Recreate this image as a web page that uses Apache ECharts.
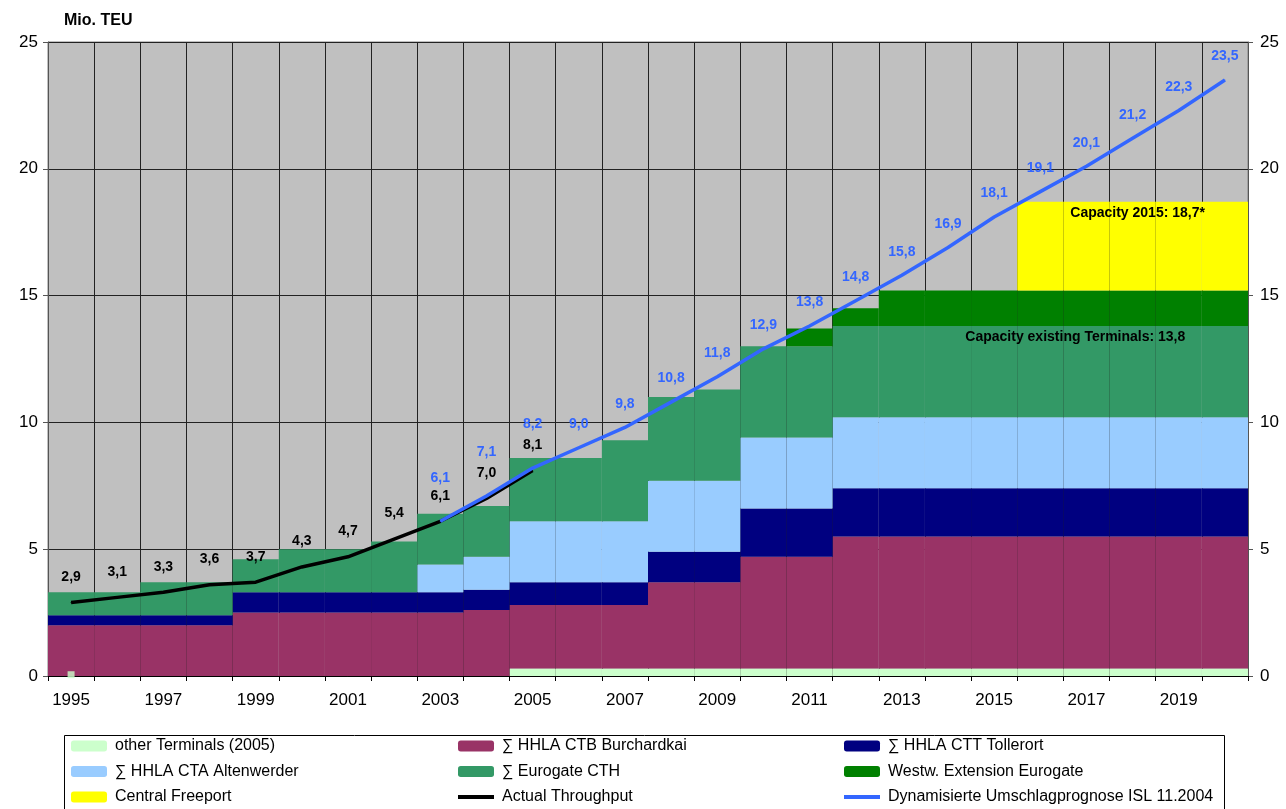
<!DOCTYPE html>
<html>
<head>
<meta charset="utf-8">
<script src="https://cdn.jsdelivr.net/npm/echarts@6/dist/echarts.min.js"></script>
<style>
  html, body { margin: 0; padding: 0; background: #fff; }
  #chart { width: 1286px; height: 809px; }
</style>
</head>
<body>
<div id="chart"></div>
<script>
const years = ['1995', '1996', '1997', '1998', '1999', '2000', '2001', '2002', '2003', '2004', '2005', '2006', '2007',
  '2008', '2009', '2010', '2011', '2012', '2013', '2014', '2015', '2016', '2017', '2018', '2019', '2020']

// stacked capacity blocks, Mio. TEU per terminal
const otherTerminals = [0, 0, 0, 0, 0, 0, 0, 0, 0, 0, 0.3, 0.3, 0.3, 0.3, 0.3, 0.3, 0.3, 0.3, 0.3, 0.3, 0.3, 0.3, 0.3, 0.3, 0.3, 0.3]
const ctbBurchardkai = [2.0, 2.0, 2.0, 2.0, 2.5, 2.5, 2.5, 2.5, 2.5, 2.6, 2.5, 2.5, 2.5, 3.4, 3.4, 4.4, 4.4, 5.2, 5.2, 5.2, 5.2, 5.2, 5.2, 5.2, 5.2, 5.2]
const cttTollerort = [0.4, 0.4, 0.4, 0.4, 0.8, 0.8, 0.8, 0.8, 0.8, 0.8, 0.9, 0.9, 0.9, 1.2, 1.2, 1.9, 1.9, 1.9, 1.9, 1.9, 1.9, 1.9, 1.9, 1.9, 1.9, 1.9]
const ctaAltenwerder = [0, 0, 0, 0, 0, 0, 0, 0, 1.1, 1.3, 2.4, 2.4, 2.4, 2.8, 2.8, 2.8, 2.8, 2.8, 2.8, 2.8, 2.8, 2.8, 2.8, 2.8, 2.8, 2.8]
const eurogateCTH = [0.9, 0.9, 1.3, 1.3, 1.3, 1.7, 1.7, 2.0, 2.0, 2.0, 2.5, 2.5, 3.2, 3.3, 3.6, 3.6, 3.6, 3.6, 3.6, 3.6, 3.6, 3.6, 3.6, 3.6, 3.6, 3.6]
const westwExtension = [0, 0, 0, 0, 0, 0, 0, 0, 0, 0, 0, 0, 0, 0, 0, 0, 0.7, 0.7, 1.4, 1.4, 1.4, 1.4, 1.4, 1.4, 1.4, 1.4]
const centralFreeport = [0, 0, 0, 0, 0, 0, 0, 0, 0, 0, 0, 0, 0, 0, 0, 0, 0, 0, 0, 0, 0, 3.5, 3.5, 3.5, 3.5, 3.5]
const otherTerminalsSpot = [['1995', 0.05]]

// throughput lines
const actualThroughput = [2.9, 3.1, 3.3, 3.6, 3.7, 4.3, 4.7, 5.4, 6.1, 7.0, 8.1, null, null, null, null, null, null, null, null, null, null, null, null, null, null, null]
const forecastISL = [null, null, null, null, null, null, null, null, 6.1, 7.1, 8.2, 9.0, 9.8, 10.8, 11.8, 12.9, 13.8, 14.8, 15.8, 16.9, 18.1, 19.1, 20.1, 21.2, 22.3, 23.5]

const NAMES = {
  other: 'other Terminals (2005)',
  ctb: '∑ HHLA CTB Burchardkai',
  ctt: '∑ HHLA CTT Tollerort',
  cta: '∑ HHLA CTA Altenwerder',
  cth: '∑ Eurogate CTH',
  westw: 'Westw. Extension Eurogate',
  freeport: 'Central Freeport',
  actual: 'Actual Throughput',
  forecast: 'Dynamisierte Umschlagprognose ISL 11.2004',
}
const FONT = '"Liberation Sans", Arial, sans-serif'
const fmt = v => v.toFixed(1).replace('.', ',')
const LINE_ICON = 'path://M0,0H36V4H0Z'

const chart = echarts.init(document.getElementById('chart'), null, { renderer: 'canvas' })

const stackBar = (name, data, color, extra) => Object.assign({
  name, type: 'bar', stack: 'cap', data,
  barCategoryGap: '0%',
  itemStyle: { color },
  emphasis: { disabled: true },
}, extra || {})

const legendCol = (left, data) => ({
  orient: 'vertical', left, top: 733, height: 100, width: 400,
  itemWidth: 36, itemHeight: 11, itemGap: 9.5,
  textStyle: { fontFamily: FONT, fontSize: 16, lineHeight: 16, color: '#000', padding: [0, 0, 0, 3] },
  data,
})

const lineLabel = (color, distance) => ({
  show: true, position: 'top', distance,
  fontFamily: FONT, fontSize: 14, fontWeight: 'bold', color,
  formatter: p => fmt(p.value),
})

const option = {
  animation: false,
  title: {
    text: 'Mio. TEU', left: 59, top: 8,
    textStyle: { fontFamily: FONT, fontSize: 16, fontWeight: 'bold', color: '#000' },
  },
  grid: {
    left: 48, right: 38, top: 42, bottom: 133,
    show: true, backgroundColor: '#c0c0c0', borderColor: '#808080', borderWidth: 1,
  },
  legend: [
    legendCol(66, [NAMES.other, NAMES.cta, NAMES.freeport]),
    legendCol(453, [NAMES.ctb, NAMES.cth, { name: NAMES.actual, icon: LINE_ICON }]),
    legendCol(839, [NAMES.ctt, NAMES.westw, { name: NAMES.forecast, icon: LINE_ICON }]),
  ],
  graphic: [{
    type: 'rect', left: 62, top: 733,
    shape: { width: 1160, height: 90 },
    style: { fill: 'none', stroke: '#000', lineWidth: 1 },
  }],
  xAxis: {
    type: 'category', data: years, boundaryGap: true,
    axisLine: { lineStyle: { color: '#000', width: 1 } },
    axisTick: { show: true, interval: 0, length: 5, lineStyle: { color: '#000' } },
    axisLabel: { interval: 1, margin: 16, fontFamily: FONT, fontSize: 17, color: '#000' },
    splitLine: { show: true, interval: 0, lineStyle: { color: '#222', width: 1 } },
  },
  yAxis: [{
    type: 'value', min: 0, max: 25, interval: 5, position: 'left',
    axisLine: { show: true, lineStyle: { color: '#555' } },
    axisTick: { show: true, length: 5, lineStyle: { color: '#555' } },
    axisLabel: { fontFamily: FONT, fontSize: 17, color: '#000', margin: 10 },
    splitLine: { show: true, lineStyle: { color: '#222', width: 1 } },
  }, {
    type: 'value', min: 0, max: 25, interval: 5, position: 'right',
    axisLine: { show: true, lineStyle: { color: '#555' } },
    axisTick: { show: true, length: 5, lineStyle: { color: '#555' } },
    axisLabel: { fontFamily: FONT, fontSize: 17, color: '#000', margin: 12 },
    splitLine: { show: false },
  }],
  series: [
    stackBar(NAMES.other, otherTerminals, '#ccffcc'),
    stackBar(NAMES.ctb, ctbBurchardkai, '#993366'),
    stackBar(NAMES.ctt, cttTollerort, '#000080'),
    stackBar(NAMES.cta, ctaAltenwerder, '#99ccff'),
    stackBar(NAMES.cth, eurogateCTH, '#339966', {
      markPoint: {
        symbol: 'rect', symbolSize: 0, silent: true,
        label: {
          show: true, position: 'inside', offset: [35, 0],
          fontFamily: FONT, fontSize: 14, fontWeight: 'bold', color: '#000',
          formatter: 'Capacity existing Terminals: 13,8',
        },
        data: [{ coord: ['2016', 13.36] }],
      },
    }),
    stackBar(NAMES.westw, westwExtension, '#008000'),
    stackBar(NAMES.freeport, centralFreeport, '#ffff00', {
      markPoint: {
        symbol: 'rect', symbolSize: 0, silent: true,
        label: {
          show: true, position: 'inside', offset: [5, 0],
          fontFamily: FONT, fontSize: 14, fontWeight: 'bold', color: '#000',
          formatter: 'Capacity 2015: 18,7*',
        },
        data: [{ coord: ['2018', 18.24] }],
      },
    }),
    {
      name: 'spot', type: 'scatter', data: otherTerminalsSpot,
      symbol: 'rect', symbolSize: 7, itemStyle: { color: '#ccffcc' }, silent: true, z: 5,
    },
    {
      name: NAMES.actual, type: 'line', data: actualThroughput,
      symbol: 'circle', symbolSize: 1, showSymbol: true,
      lineStyle: { color: '#000', width: 3.5 }, itemStyle: { color: '#000' },
      z: 4,
      label: lineLabel('#000', 18),
    },
    {
      name: NAMES.forecast, type: 'line',
      data: forecastISL.map((v, i) => (v != null && actualThroughput[i] != null)
        ? { value: v, label: { distance: 36 } } : v),
      symbol: 'circle', symbolSize: 1, showSymbol: true,
      lineStyle: { color: '#3366ff', width: 3.5 }, itemStyle: { color: '#3366ff' },
      z: 5,
      label: lineLabel('#3366ff', 16),
    },
  ],
}

chart.setOption(option)
</script>
</body>
</html>
